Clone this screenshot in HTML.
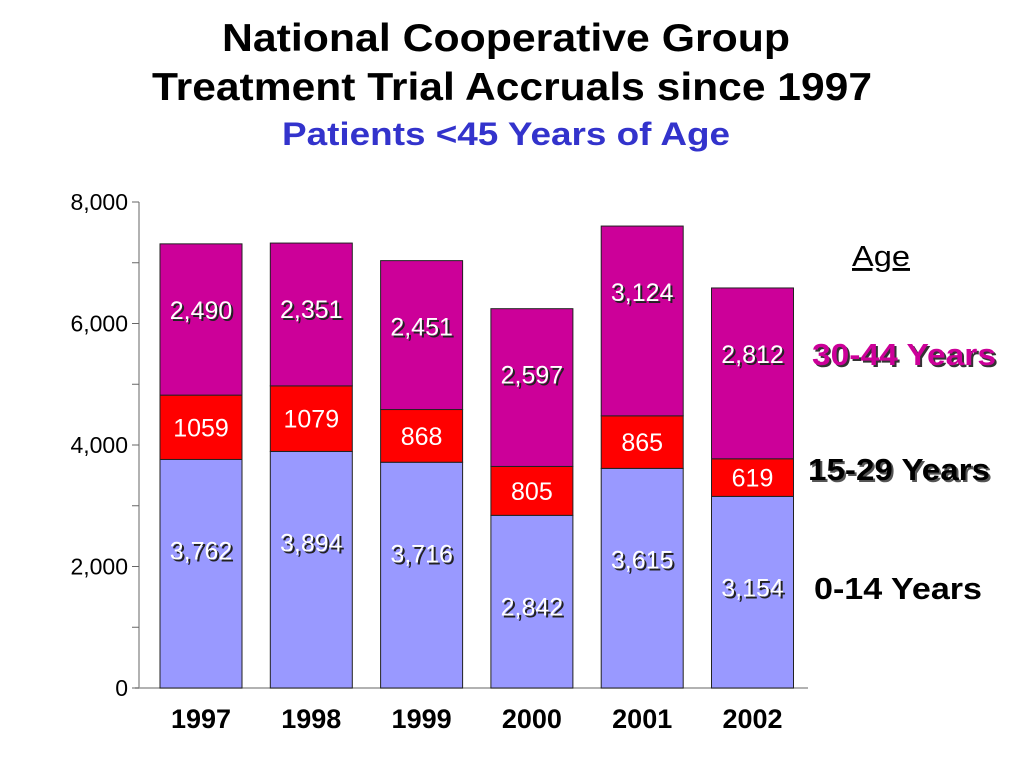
<!DOCTYPE html>
<html><head><meta charset="utf-8"><style>
body{margin:0;width:1024px;height:768px;background:#fff;overflow:hidden;font-family:"Liberation Sans",Arial,sans-serif;}
</style></head><body>
<svg width="1024" height="768" xmlns="http://www.w3.org/2000/svg" font-family="Liberation Sans, Arial, sans-serif">
<text x="222" y="51" font-size="39" font-weight="bold" textLength="568" lengthAdjust="spacingAndGlyphs">National Cooperative Group</text>
<text x="152" y="100" font-size="39" font-weight="bold" textLength="720" lengthAdjust="spacingAndGlyphs">Treatment Trial Accruals since 1997</text>
<text x="282" y="145" font-size="32" font-weight="bold" fill="#3333cc" textLength="448" lengthAdjust="spacingAndGlyphs">Patients &lt;45 Years of Age</text>
<g id="axes"></g>
<g id="bars"></g>
<text x="852" y="266" font-size="29" text-decoration="underline" textLength="58" lengthAdjust="spacingAndGlyphs">Age</text>
<text x="814" y="367" font-size="31" font-weight="bold" fill="#333" textLength="184" lengthAdjust="spacingAndGlyphs">30-44 Years</text>
<text x="812" y="365" font-size="31" font-weight="bold" fill="#cc0099" textLength="184" lengthAdjust="spacingAndGlyphs">30-44 Years</text>
<text x="810" y="482" font-size="31" font-weight="bold" fill="#555" textLength="182" lengthAdjust="spacingAndGlyphs">15-29 Years</text>
<text x="808" y="480" font-size="31" font-weight="bold" fill="#000" textLength="182" lengthAdjust="spacingAndGlyphs">15-29 Years</text>
<text x="814" y="599" font-size="31" font-weight="bold" fill="#000" textLength="168" lengthAdjust="spacingAndGlyphs">0-14 Years</text>
</svg>
<script>
const years=["1997","1998","1999","2000","2001","2002"];
const young=[3762,3894,3716,2842,3615,3154];
const mid=[1059,1079,868,805,865,619];
const old=[2490,2351,2451,2597,3124,2812];
const yTicks=[0,2000,4000,6000,8000];
const yTickLabels=["0","2,000","4,000","6,000","8,000"];

const NS="http://www.w3.org/2000/svg";
const y0=688,y1=202,vmax=8000;
const Y=v=>y0-(v/vmax)*(y0-y1);
const X=i=>201+i*110.3;
const bw=82;
function mk(tag,attrs,parent,text){const e=document.createElementNS(NS,tag);for(const k in attrs)e.setAttribute(k,attrs[k]);if(text!==undefined)e.textContent=text;parent.appendChild(e);return e;}
const axes=document.getElementById('axes'),bars=document.getElementById('bars');
let e=mk('line',{x1:139,y1:y1,x2:139,y2:y0,stroke:'#999','stroke-width':1.5},axes);


e=mk('line',{x1:135,y1:y0,x2:808,y2:y0,stroke:'#999','stroke-width':1.5},axes);


for(let v=0;v<=vmax;v+=1000){
  e=mk('line',{x1:132,y1:Y(v),x2:139,y2:Y(v),stroke:'#666','stroke-width':1},axes);
  
  
}
yTicks.forEach((v,i)=>{
  e=mk('text',{x:128,y:Y(v)+8,'text-anchor':'end','font-size':23},axes,yTickLabels[i]);
  
  
});
function fmt(v){return v.toLocaleString('en-US');}
function label(x,y,t,shadow){
  if(shadow){e=mk('text',{x:x+2,y:y+2,'text-anchor':'middle','font-size':25,fill:'#222'},bars,t);
    
    }
  e=mk('text',{x:x,y:y,'text-anchor':'middle','font-size':25,fill:'#fff'},bars,t);
  
  
}
years.forEach((yr,i)=>{
  const cx=X(i),x=cx-bw/2;
  const a=young[i],b=a+mid[i],c=b+old[i];
  e=mk('rect',{x:x,y:Y(a),width:bw,height:Y(0)-Y(a),fill:'#9999ff',stroke:'#222','stroke-width':1},bars);
  
  
  e=mk('rect',{x:x,y:Y(b),width:bw,height:Y(a)-Y(b),fill:'#ff0000',stroke:'#222','stroke-width':1},bars);
  
  
  e=mk('rect',{x:x,y:Y(c),width:bw,height:Y(b)-Y(c),fill:'#cc0099',stroke:'#222','stroke-width':1},bars);
  
  
  label(cx,Y(a)+100,fmt(young[i]),true);
  label(cx,(Y(a)+Y(b))/2+9,String(mid[i]),false);
  label(cx,Y(c)+75,fmt(old[i]),true);
  e=mk('text',{x:cx,y:728,'text-anchor':'middle','font-size':27,'font-weight':'bold'},bars,yr);
  
  
});
</script>
</body></html>
